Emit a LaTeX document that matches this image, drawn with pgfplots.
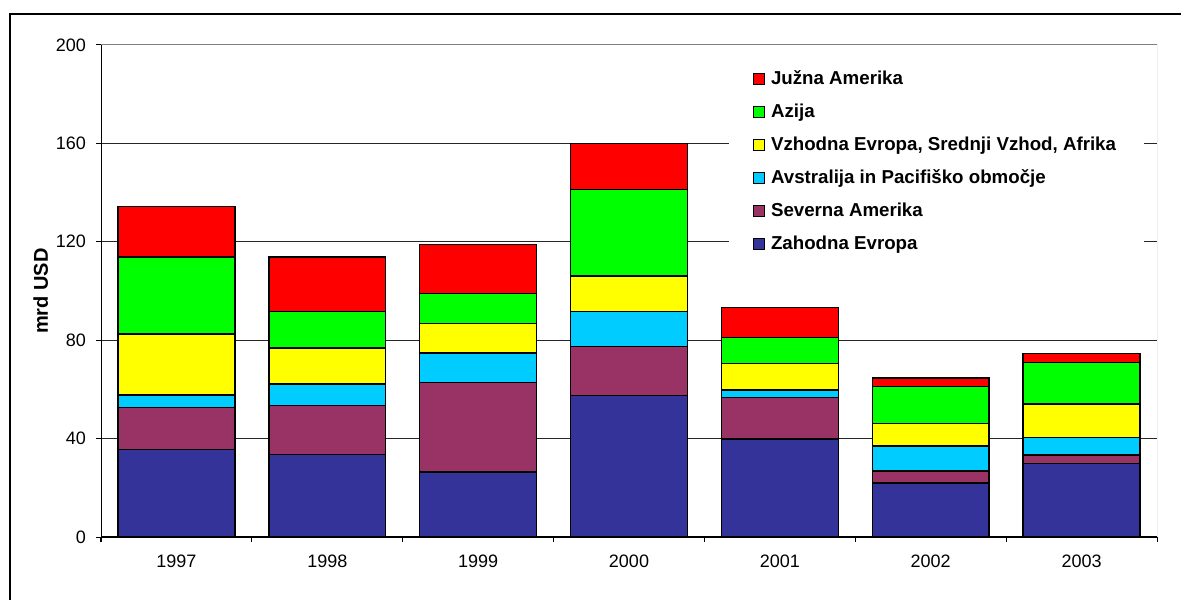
\documentclass[border=0pt]{standalone}
\usepackage{pgfplots}
\pgfplotsset{compat=1.18}
\usepackage{pgfplotstable}
\usepackage{fontspec}
\setmainfont{Liberation Sans}
\definecolor{cBlue}{HTML}{333399}
\definecolor{cMaroon}{HTML}{993366}
\definecolor{cCyan}{HTML}{00CCFF}
\definecolor{cYellow}{HTML}{FFFF00}
\definecolor{cGreen}{HTML}{00FF00}
\definecolor{cRed}{HTML}{FF0000}
\pgfplotstableread{
x blue maroon cyan yellow green red
0 35.5 17.1 5.2 24.7 31.3 20.6
1 33.5 19.9 8.7 14.7 14.9 22.2
2 26.4 36.4 12.0 12.0 12.1 19.9
3 57.6 19.9 14.2 14.3 35.3 18.7
4 39.9 16.9 2.9 10.9 10.5 12.1
5 21.9 4.9 10.1 9.3 14.9 3.6
6 29.8 3.5 7.1 13.6 16.9 3.7
}\data
\begin{document}
\begin{tikzpicture}[x=1pt,y=1pt]
\useasboundingbox (-50.5,-31) rectangle (540,268.5);
\draw[line width=0.75pt] (-45.5,-40) -- (-45.5,261.5) -- (560,261.5);
\begin{axis}[
  at={(0,0)}, anchor=south west,
  scale only axis, width=528pt, height=246pt,
  ybar stacked, bar width=0.775,
  xmin=-0.5, xmax=6.5, ymin=0, ymax=200,
  xtick={0,...,6},
  xticklabels={1997,1998,1999,2000,2001,2002,2003},
  minor xtick={-0.5,0.5,...,6.5},
  ytick={0,40,...,200},
  xtick pos=bottom, ytick pos=left,
  tick align=outside,
  major tick length=2.5pt, minor tick length=2.5pt,
  major x tick style={draw=none},
  tick style={black, line width=0.5pt},
  ymajorgrids, grid style={black!85, line width=0.5pt},
  axis line style={draw=none},
  /pgf/number format/assume math mode=true,
  ticklabel style={font=\fontsize{9}{10}\selectfont},
  yticklabel style={xshift=-1.5pt},
  xticklabel style={yshift=-3pt},
  ylabel={mrd USD},
  ylabel style={at={(axis description cs:-0.057,0.5)}, anchor=center, font=\fontsize{10}{11}\selectfont\bfseries},
  reverse legend,
  legend cell align=left,
  legend image code/.code={\draw[#1,draw=black,line width=0.5pt] (0pt,-2.75pt) rectangle (5.5pt,2.75pt);},
  legend style={at={(0.594,0.972)}, anchor=north west, draw=none, fill=white,
    font=\fontsize{9.35}{11}\selectfont\bfseries, row sep=7.5pt,
    inner xsep=12pt, inner ysep=5.5pt,
    /tikz/every odd column/.append style={column sep=1.2pt},
    /tikz/every even column/.append style={column sep=8pt},
    nodes={inner xsep=2pt, inner ysep=0pt, text height=7pt, text depth=2pt}},
  every axis plot/.append style={draw=black, line width=0.75pt},
]
\addplot[fill=cBlue] table[x=x,y=blue]{\data};
\addplot[fill=cMaroon] table[x=x,y=maroon]{\data};
\addplot[fill=cCyan] table[x=x,y=cyan]{\data};
\addplot[fill=cYellow] table[x=x,y=yellow]{\data};
\addplot[fill=cGreen] table[x=x,y=green]{\data};
\addplot[fill=cRed] table[x=x,y=red]{\data};
\legend{Zahodna Evropa,Severna Amerika,Avstralija in Pacifiško območje,{Vzhodna Evropa, Srednji Vzhod, Afrika},Azija,Južna Amerika}
\draw[black!50, line width=0.5pt] (rel axis cs:0,1) -- (rel axis cs:1,1) -- (rel axis cs:1,0);
\draw[black, line width=0.75pt] (rel axis cs:0,1) -- (rel axis cs:0,0) -- (rel axis cs:1,0);
\end{axis}
\end{tikzpicture}
\end{document}
